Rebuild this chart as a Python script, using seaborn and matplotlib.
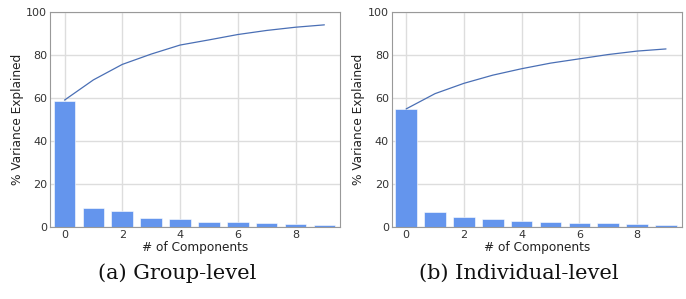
import seaborn as sns
import pandas as pd
import matplotlib
matplotlib.use("Agg")
import matplotlib.pyplot as plt

components = list(range(10))

group_var = [58.6, 8.7, 7.3, 4.3, 3.9, 2.3, 2.3, 1.7, 1.4, 0.8]
group_cum = [59.0, 68.4, 75.6, 80.4, 84.6, 87.0, 89.5, 91.4, 92.9, 94.0]

indiv_var = [54.7, 6.8, 4.6, 3.7, 2.6, 2.3, 1.9, 1.7, 1.2, 0.9]
indiv_cum = [54.9, 62.0, 66.8, 70.6, 73.6, 76.2, 78.2, 80.2, 81.8, 82.8]

captions = ["(a) Group-level", "(b) Individual-level"]


def panel(ax, var, cum):
    df = pd.DataFrame({"comp": components, "var": var, "cum": cum})
    sns.barplot(x="comp", y="var", data=df, color="#6495ED", saturation=1,
                width=0.75, edgecolor="white", linewidth=0.4, ax=ax, zorder=2)
    sns.lineplot(x="comp", y="cum", data=df, color="#4a6fb5", linewidth=0.9,
                 ax=ax, zorder=3)
    ax.set_xlim(-0.5, 9.55)
    ax.set_ylim(0, 100)
    ax.set_xticks([0, 2, 4, 6, 8])
    ax.set_xticklabels(["0", "2", "4", "6", "8"])
    ax.set_yticks([0, 20, 40, 60, 80, 100])
    ax.set_xlabel("# of Components", fontsize=8.7, color="#222222", labelpad=1)
    ax.set_ylabel("% Variance Explained", fontsize=8.7, color="#222222", labelpad=2)
    ax.tick_params(axis="both", labelsize=8, colors="#333333", length=0, pad=2)
    ax.grid(True, color="#dddddd", linewidth=1.0, zorder=0)
    ax.set_axisbelow(True)
    for s in ax.spines.values():
        s.set_color("#999999")
        s.set_linewidth(0.8)


def main():
    sns.set_style("whitegrid")
    fig = plt.figure(figsize=(6.86, 2.99), dpi=100)
    ax1 = fig.add_axes([0.073, 0.241, 0.423, 0.719])
    ax2 = fig.add_axes([0.571, 0.241, 0.423, 0.719])
    panel(ax1, group_var, group_cum)
    panel(ax2, indiv_var, indiv_cum)
    fig.text(0.258, 0.085, captions[0], ha="center", va="center",
             fontsize=15, family="DejaVu Serif", color="#111111")
    fig.text(0.757, 0.085, captions[1], ha="center", va="center",
             fontsize=15, family="DejaVu Serif", color="#111111")
    fig.savefig("out.png", dpi=100)


if __name__ == "__main__":
    main()
